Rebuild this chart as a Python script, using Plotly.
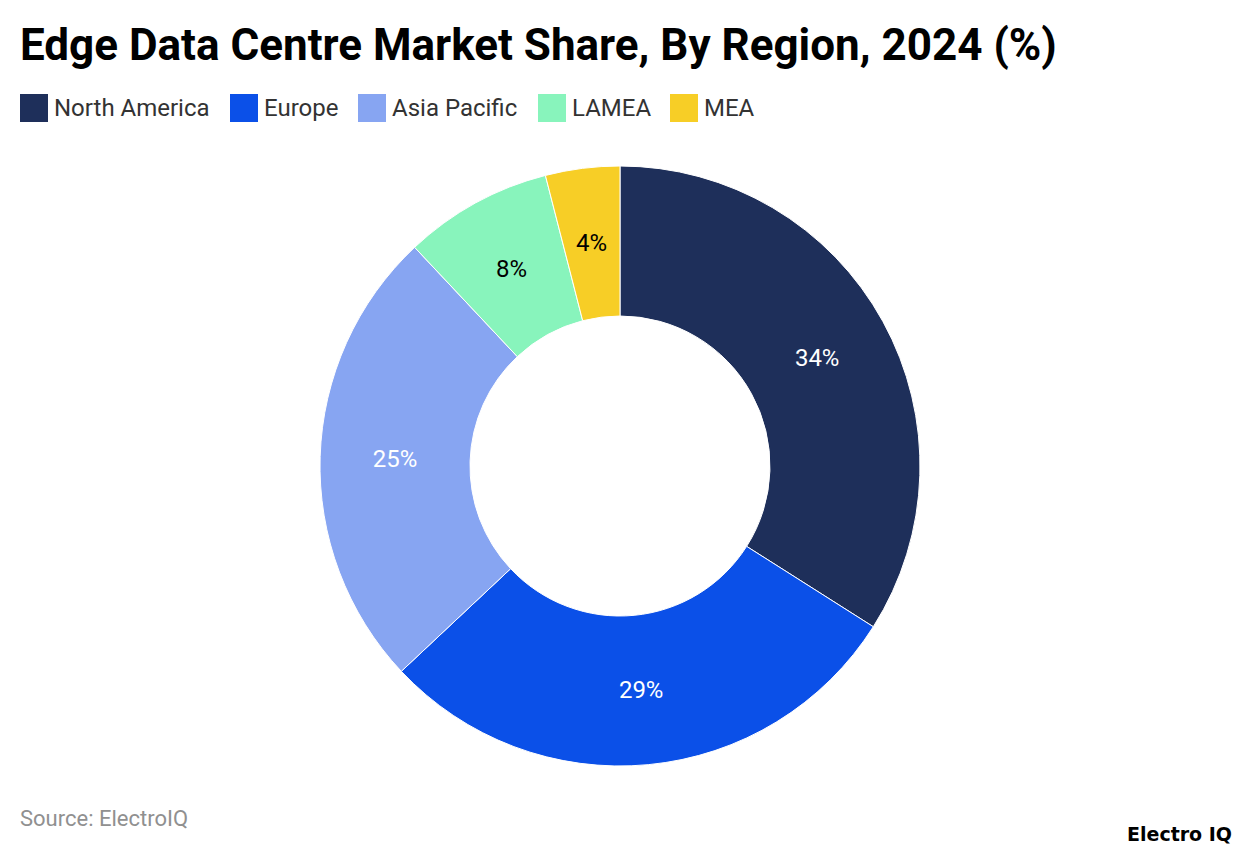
import math
import plotly.graph_objects as go

labels = ["North America", "Europe", "Asia Pacific", "LAMEA", "MEA"]
values = [34, 29, 25, 8, 4]
colors = ["#1E2F5A", "#0B50E8", "#87A5F2", "#88F4BC", "#F7CE26"]
text_colors = ["#FFFFFF", "#FFFFFF", "#FFFFFF", "#000000", "#000000"]
ring_label_max_share = 10  # narrow slices get their label centred on the ring

W, H = 1240, 852
cx, cy, R, hole = 620, 466, 300, 0.5
LABEL_SIZE = 24


def note(x, y, text, size, color, family="Roboto", anchor="left"):
    fig.add_annotation(x=x/W, y=1-y/H, xref="paper", yref="paper", xanchor=anchor, yanchor="middle",
                       text=text, showarrow=False, borderpad=0, borderwidth=0,
                       font=dict(family=family, size=size, color=color))


fig = go.Figure(go.Pie(
    labels=labels, values=values, hole=hole, sort=False, direction="clockwise", rotation=0,
    marker=dict(colors=colors, line=dict(color="#FFFFFF", width=1)),
    text=[f"{v}%" if v > ring_label_max_share else "" for v in values],
    textinfo="text", textposition="inside", insidetextorientation="horizontal",
    textfont=dict(family="Roboto", size=LABEL_SIZE, color=text_colors),
    domain=dict(x=[(cx-R)/W, (cx+R)/W], y=[1-(cy+R)/H, 1-(cy-R)/H]),
    showlegend=False, hoverinfo="label+percent",
))

# Narrow slices: plotly would push the label outwards, so place it at mid-ring from the data.
total = sum(values)
cum = 0
for v, tc in zip(values, text_colors):
    mid = (cum + v/2) / total * 2 * math.pi
    cum += v
    if v <= ring_label_max_share:
        r_mid = R * (1 + hole) / 2
        note(cx + r_mid*math.sin(mid), cy - r_mid*math.cos(mid), f"{v}%", LABEL_SIZE, tc, anchor="center")

note(20, 45, "<b>Edge Data Centre Market Share, By Region, 2024 (%)</b>", 44, "#000000")

legend_x = [20, 230, 358, 538, 670]
for name, col, x in zip(labels, colors, legend_x):
    fig.add_shape(type="rect", xref="paper", yref="paper", x0=x/W, x1=(x+28)/W, y0=1-122/H, y1=1-94/H,
                  fillcolor=col, line_width=0)
    note(x+34, 108, name, 24, "#333333")

note(20, 818, "Source: ElectroIQ", 22, "#909090")
note(1232, 834, "<b>Electro IQ</b>", 19, "#000000", family="DejaVu Sans", anchor="right")

fig.update_layout(width=W, height=H, margin=dict(l=0, r=0, t=0, b=0), paper_bgcolor="#FFFFFF")
fig.write_html("out.html", config=dict(displayModeBar=False),
               post_script="document.body.style.margin='0';document.documentElement.style.overflow='hidden';")
